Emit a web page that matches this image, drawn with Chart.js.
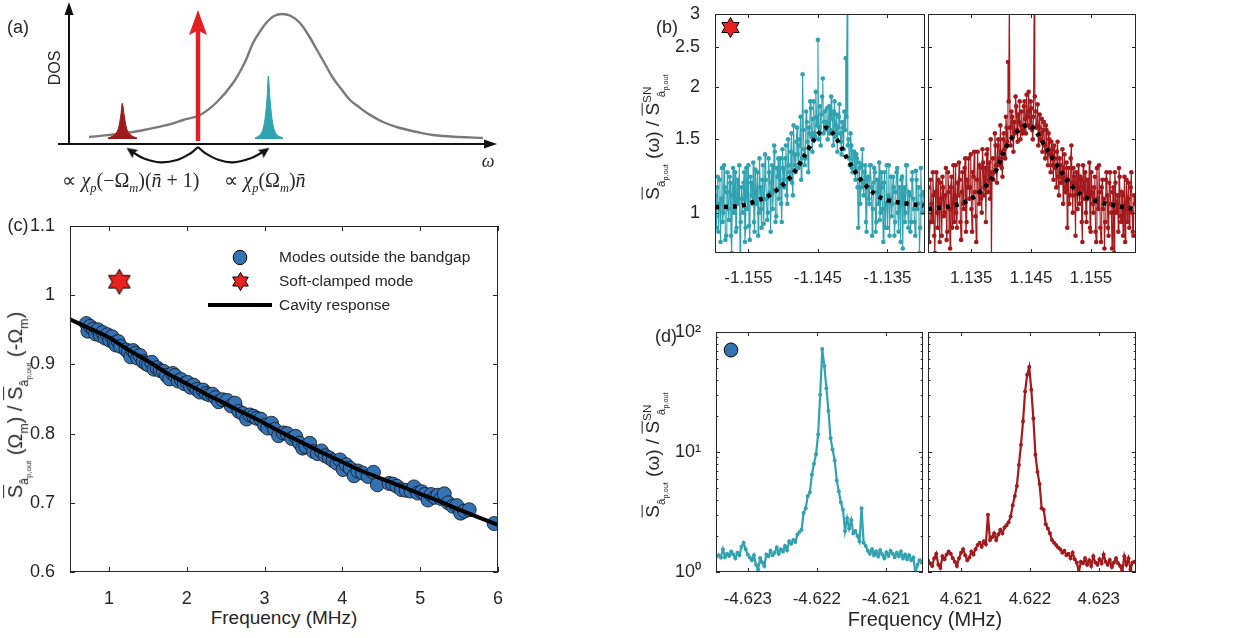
<!DOCTYPE html>
<html><head><meta charset="utf-8">
<script src="https://cdn.jsdelivr.net/npm/chart.js@4.4.1/dist/chart.umd.min.js"></script>
<style>
body{margin:0;background:#fff}
#fig{position:relative;width:1236px;height:638px;overflow:hidden;font-family:"Liberation Sans",Arial,sans-serif;color:#262626}
#fig canvas{position:absolute}
.t{position:absolute;transform:translate(-50%,-50%);white-space:nowrap;line-height:1}
.r{transform:translate(-50%,-50%) rotate(-90deg)}
.ov{text-decoration:overline;text-decoration-thickness:1px}
sub{font-size:0.62em;vertical-align:-0.45em}
sup{font-size:0.62em;vertical-align:0.75em}
.m{font-family:"Liberation Serif","Times New Roman",serif}
</style></head>
<body>
<div id="fig">
  <canvas id="cA" width="620" height="200" style="left:0;top:0"></canvas>
  <canvas id="cC" width="500" height="390" style="left:10px;top:215px"></canvas>
  <canvas id="cB1" width="268" height="286" style="left:660px;top:4px"></canvas>
  <canvas id="cB2" width="224" height="286" style="left:926px;top:4px"></canvas>
  <canvas id="cD1" width="268" height="290" style="left:660px;top:322px"></canvas>
  <canvas id="cD2" width="224" height="290" style="left:926px;top:322px"></canvas>

  <div class="t" style="left:18px;top:27px;font-size:18px">(a)</div>
  <div class="t r" style="left:55px;top:68px;font-size:16px">DOS</div>
  <div class="t m" style="left:488px;top:161px;font-size:18px"><i>ω</i></div>
  <div class="t m" style="left:131px;top:182px;font-size:20px">∝ <i>χ<sub>p</sub></i>(−Ω<sub><i>m</i></sub>)(<i>n̄</i> + 1)</div>
  <div class="t m" style="left:265px;top:182px;font-size:20px">∝ <i>χ<sub>p</sub></i>(Ω<sub><i>m</i></sub>)<i>n̄</i></div>

  <div class="t" style="left:667px;top:27px;font-size:18px">(b)</div>
  <div class="t" style="left:18px;top:225px;font-size:18px">(c)</div>
  <div class="t" style="left:666px;top:336px;font-size:18px">(d)</div>

  <div class="t r" style="left:19px;top:405px;font-size:20px"><span class="ov">S</span><sub>â<sub>p,out</sub></sub> (Ω<sub>m</sub>) / <span class="ov">S</span><sub>â<sub>p,out</sub></sub> (-Ω<sub>m</sub>)</div>
  <div class="t r" style="left:655px;top:137px;font-size:19px"><span class="ov">S</span><sub>â<sub>p,out</sub></sub> (ω) / <span class="ov">S</span><sup>SN</sup><sub style="margin-left:-0.9em">â<sub>p,out</sub></sub></div>
  <div class="t r" style="left:655px;top:455px;font-size:19px"><span class="ov">S</span><sub>â<sub>p,out</sub></sub> (ω) / <span class="ov">S</span><sup>SN</sup><sub style="margin-left:-0.9em">â<sub>p,out</sub></sub></div>

  <div class="t" style="left:284px;top:617px;font-size:19px">Frequency (MHz)</div>
  <div class="t" style="left:925px;top:619px;font-size:20px">Frequency (MHz)</div>

  <div style="position:absolute;left:208px;top:303px;width:64px;height:4px;background:#000"></div>
  <div class="t" style="left:279px;top:257px;transform:translate(0,-50%);font-size:15.5px">Modes outside the bandgap</div>
  <div class="t" style="left:279px;top:281px;transform:translate(0,-50%);font-size:15.5px">Soft-clamped mode</div>
  <div class="t" style="left:279px;top:305px;transform:translate(0,-50%);font-size:15.5px">Cavity response</div>
</div>
<script>
// ---------- (a) schematic ----------
const cavityX = [20, 64, 98, 114, 131, 148, 164, 176, 184, 192, 198, 205, 213, 222, 231, 240, 248, 256, 264, 273, 281, 290, 298, 314, 331, 348, 364, 390, 414];
const cavityY = [7, 12, 19, 24, 29, 42, 61, 82, 101, 114, 122, 128, 130, 128, 121, 108, 94, 80, 66, 54, 44, 37, 31, 22, 16, 12, 9, 7, 6];
const stokesX = [39, 44, 48, 50, 52, 53.3, 55, 57, 59, 63, 68];
const stokesY = [6, 8, 12, 18, 30, 41, 30, 18, 12, 8, 6];
const antiX = [186, 191, 194, 196, 198, 199.3, 201, 203, 205, 208, 214];
const antiY = [6, 9, 15, 25, 45, 68, 45, 25, 15, 9, 6];
const pumpX = [129, 129];
const pumpY = [3, 121.5];
const leftArcX = [129, 122, 108, 91, 75, 65, 62];
const leftArcY = [-3, -9, -16, -18.3, -14.5, -9, -7];
const rightArcX = [129, 136, 150, 164, 181, 192, 196];
const rightArcY = [-3, -9, -16, -18.3, -14.5, -9, -7];
const dosAxisTop = 142, omegaAxisStart = -11, omegaAxisEnd = 428;

// ---------- (c) ----------
const modeFreq = [0.71,0.73,0.76,0.80,0.83,0.86,0.89,0.92,0.95,0.98,1.01,1.04,1.07,1.09,1.12,1.15,1.22,1.25,1.28,1.31,1.34,1.37,1.40,1.44,1.48,1.51,1.55,1.58,1.62,1.66,1.70,1.74,1.78,1.82,1.85,1.89,1.93,1.97,2.01,2.05,2.09,2.13,2.17,2.21,2.25,2.29,2.33,2.37,2.41,2.46,2.52,2.57,2.62,2.67,2.72,2.77,2.81,2.86,2.90,2.95,3.00,3.04,3.09,3.13,3.18,3.24,3.29,3.35,3.40,3.45,3.49,3.53,3.58,3.63,3.68,3.73,3.78,3.83,3.88,3.93,3.97,4.01,4.05,4.10,4.15,4.20,4.26,4.33,4.40,4.45,4.60,4.65,4.70,4.76,4.82,4.88,4.92,4.97,5.02,5.06,5.10,5.14,5.19,5.23,5.27,5.31,5.36,5.42,5.47,5.52,5.57,5.63,5.95];
const modeRatio = [0.959,0.948,0.955,0.951,0.944,0.950,0.942,0.946,0.938,0.943,0.935,0.940,0.931,0.928,0.933,0.926,0.921,0.918,0.911,0.920,0.916,0.909,0.913,0.904,0.901,0.899,0.903,0.893,0.895,0.891,0.890,0.884,0.879,0.887,0.884,0.876,0.878,0.872,0.874,0.867,0.870,0.864,0.860,0.863,0.858,0.856,0.857,0.852,0.846,0.849,0.848,0.840,0.844,0.832,0.829,0.821,0.827,0.825,0.822,0.821,0.812,0.808,0.815,0.806,0.797,0.801,0.800,0.793,0.796,0.786,0.779,0.781,0.786,0.774,0.771,0.775,0.768,0.765,0.761,0.757,0.762,0.748,0.755,0.750,0.739,0.746,0.743,0.738,0.744,0.726,0.728,0.727,0.724,0.719,0.718,0.717,0.723,0.714,0.716,0.712,0.704,0.712,0.708,0.711,0.706,0.713,0.700,0.695,0.696,0.685,0.688,0.690,0.670];
const softFreq = [1.134];
const softRatio = [1.0195];
const cavFreq = [0.5,0.75,1,1.25,1.5,1.75,2,2.25,2.5,2.75,3,3.25,3.5,3.75,4,4.25,4.5,4.75,5,5.25,5.5,5.75,6];
const cavRatio = [0.965,0.952,0.939,0.921,0.905,0.887,0.872,0.857,0.843,0.829,0.815,0.800,0.786,0.772,0.759,0.746,0.735,0.724,0.713,0.702,0.690,0.679,0.668];
const cTicksX = [1, 2, 3, 4, 5, 6];
const cTicksY = [0.6, 0.7, 0.8, 0.9, 1.0, 1.1];

// ---------- (b) soft-clamped mode spectra (bins + in-between bins) ----------
const bNegStart = -1.1598, bNegStep = 0.0002;
const bNegVals = [
 1.10,0.92,1.22,1.05,0.85,1.28,1.00,1.15,0.88,1.25,
 0.96,1.18,0.80,1.28,1.02,0.90,1.20,1.08,0.78,1.15,
 1.00,1.25,0.92,1.10,1.30,0.86,1.18,1.05,0.95,1.27,
 1.12,0.88,1.35,1.02,1.20,0.94,1.38,1.08,1.00,1.25,
 0.90,1.30,1.12,1.40,0.98,1.22,1.08,1.35,0.95,1.28,
 1.15,1.45,1.05,1.30,1.20,1.55,1.10,1.38,1.25,1.60,
 1.28,1.50,1.20,2.15,1.42,1.35,1.65,1.25,1.55,1.78,
 1.40,1.85,1.52,1.70,2.60,1.60,1.45,1.90,1.55,1.75,
 1.65,1.50,1.80,1.58,1.72,1.45,1.85,1.62,1.40,1.70,
 1.55,1.38,1.60,1.75,2.35,3.20,1.50,1.30,1.45,1.25,
 1.40,1.20,1.35,0.92,1.28,1.15,1.42,1.10,1.30,0.90,
 1.22,1.05,1.30,0.88,1.18,1.25,0.95,1.12,1.32,1.00,
 1.15,0.85,1.25,1.05,0.92,1.30,1.08,0.98,1.22,0.88,
 1.12,1.28,0.90,1.05,1.20,0.82,1.15,1.00,1.30,0.92,
 1.10,0.95,1.25,1.02,0.88,1.20,1.05,0.80,1.28,1.00,1.12];
const bNegMid = [
 0.98,1.15,0.90,1.20,1.08,0.95,1.30,0.86,1.12,1.02,
 1.22,0.88,1.10,1.00,1.25,0.92,1.05,1.30,0.95,1.08,
 1.18,0.85,1.28,1.02,0.93,1.22,1.10,1.32,0.90,1.05,
 1.25,1.00,1.15,0.92,1.30,1.08,1.20,0.96,1.35,1.12,
 1.18,1.02,1.45,0.95,1.28,1.35,1.15,1.05,1.42,1.20,
 1.35,1.10,1.50,1.25,1.40,1.18,1.62,1.30,1.48,1.38,
 1.45,1.70,1.35,1.58,1.30,1.75,1.48,1.60,1.85,1.52,
 1.68,1.55,1.95,1.62,1.50,1.80,1.72,2.10,1.65,1.58,
 1.78,1.62,1.55,1.90,1.68,1.75,1.52,1.72,1.60,1.82,
 1.48,1.65,1.42,1.58,1.70,1.45,1.35,1.55,1.28,1.40,
 1.25,1.38,1.15,1.32,1.05,1.30,1.18,1.25,0.95,1.20,
 1.08,1.30,1.15,1.02,1.28,0.90,1.20,1.05,0.96,1.25,
 1.02,1.18,0.92,1.30,1.10,0.88,1.22,1.05,1.15,0.95,
 1.25,1.00,1.15,0.85,1.22,1.08,0.95,1.30,1.05,1.12,
 0.90,1.20,1.08,0.95,1.26,1.02,1.15,0.92,1.10,1.05];
const bPosStart = 1.1278, bPosStep = 0.00023;
const bPosVals = [
 1.02,0.85,1.20,0.95,1.10,0.80,1.25,0.92,1.05,1.18,
 0.88,1.15,1.00,1.28,0.90,1.12,0.82,1.22,1.05,0.95,
 1.30,0.92,1.10,1.20,0.86,1.25,1.02,1.35,0.95,1.15,
 1.08,1.38,0.90,1.22,1.12,0.85,1.40,1.05,1.28,1.00,
 1.32,1.15,0.95,1.42,1.20,1.08,0.75,1.35,1.25,1.45,
 1.18,1.50,1.30,1.40,1.22,1.55,1.35,1.60,2.30,3.30,
 1.45,1.70,1.40,1.55,1.80,1.48,1.65,1.50,1.75,1.58,
 1.85,1.55,1.70,1.95,1.60,1.78,1.50,3.30,1.75,1.62,
 1.45,1.72,1.55,1.40,1.65,1.35,1.58,1.30,1.50,1.25,
 1.42,1.20,1.35,1.15,1.48,1.10,1.30,1.22,1.05,1.38,
 1.15,0.92,1.28,1.10,1.45,1.00,1.22,0.88,1.18,1.30,
 1.05,1.20,0.85,1.15,1.25,0.95,1.10,1.32,0.90,1.12,
 1.00,1.22,0.85,1.08,1.30,0.92,1.15,1.02,0.82,1.20,
 1.10,0.88,1.25,1.00,1.12,0.80,1.18,1.05,0.90,1.22,
 0.95,1.10,1.02,0.85,1.20,1.08,0.92,1.15,1.00,0.88,1.05];
const bPosMid = [
 1.15,0.95,1.05,1.25,0.88,1.12,1.00,1.20,0.85,1.08,
 1.22,0.98,1.10,0.86,1.25,1.02,1.15,0.92,1.30,1.08,
 1.00,1.18,1.32,0.95,1.12,1.05,1.28,0.90,1.20,1.35,
 1.15,1.02,1.25,1.40,0.98,1.20,1.12,1.30,1.08,1.42,
 1.10,1.28,1.38,1.12,1.32,1.50,1.25,1.20,1.55,1.30,
 1.45,1.35,1.62,1.28,1.50,1.42,1.70,1.48,1.85,1.60,
 1.75,1.52,1.65,1.90,1.58,1.72,1.85,1.62,1.55,1.80,
 1.68,1.92,1.62,1.75,1.85,1.58,1.70,1.90,1.60,1.82,
 1.60,1.50,1.68,1.58,1.45,1.62,1.40,1.55,1.38,1.48,
 1.30,1.45,1.28,1.40,1.22,1.35,1.18,1.42,1.28,1.12,
 1.32,1.20,1.05,1.35,1.18,1.28,1.10,1.25,1.02,1.15,
 1.22,0.95,1.30,1.08,1.00,1.20,1.12,0.92,1.25,1.05,
 1.15,0.90,1.28,1.02,1.12,0.85,1.20,1.08,0.95,1.25,
 0.92,1.18,1.05,0.82,1.15,1.25,1.00,1.10,1.28,0.98,
 1.12,0.88,1.22,1.05,0.95,1.18,1.02,1.25,0.90,1.10];
const fitNegX = [-1.1598,-1.156,-1.1537,-1.152,-1.1493,-1.1475,-1.1464,-1.145,-1.1438,-1.1425,-1.1407,-1.139,-1.1383,-1.1365,-1.1349,-1.132,-1.1298];
const fitNegY = [1.03,1.04,1.07,1.10,1.20,1.32,1.42,1.54,1.60,1.52,1.34,1.21,1.17,1.10,1.07,1.05,1.04];
const fitPosX = [1.1278,1.132,1.135,1.1377,1.139,1.141,1.143,1.1448,1.147,1.149,1.152,1.154,1.1565,1.159,1.1623];
const fitPosY = [1.02,1.04,1.08,1.17,1.25,1.45,1.58,1.62,1.47,1.32,1.15,1.09,1.06,1.04,1.02];
const bTicksNeg = [-1.155, -1.145, -1.135];
const bTicksPos = [1.135, 1.145, 1.155];
const bTicksY = [1, 1.5, 2, 2.5, 3];

// ---------- (d) mode outside the bandgap ----------
const dNegStart = -4.62345, dPosStart = 4.62052, dStep = 0.00003;
const dNegVals = [
 1.35,1.38,1.32,1.55,1.33,1.42,1.36,1.48,1.40,1.30,
 1.45,1.38,1.62,1.75,1.55,1.40,1.32,1.25,1.38,1.15,
 1.05,1.30,1.20,1.12,1.40,1.35,1.50,1.38,1.45,1.60,
 1.42,1.55,1.48,1.65,1.52,1.80,1.72,1.85,1.78,2.05,
 2.15,2.25,3.1,3.4,4.3,4.6,6.5,8.0,9.6,14,
 30,72,52,34,22,13,10.5,8.5,5.8,4.7,
 3.8,3.3,2.2,2.8,2.3,2.7,2.1,2.2,2.0,1.8,
 3.4,1.75,1.65,1.50,1.42,1.55,1.38,1.48,1.35,1.52,
 1.40,1.30,1.46,1.36,1.50,1.42,1.33,1.45,1.35,1.48,
 1.30,1.40,1.28,1.38,1.25,1.32,0.98,1.15,1.25,1.20,1.30];
const dPosVals = [
 1.25,1.18,1.12,1.30,1.42,1.15,1.08,1.35,1.28,1.40,
 1.48,1.42,1.30,1.22,1.12,1.30,1.45,1.55,1.38,1.25,
 1.32,1.48,1.40,1.55,1.68,1.75,1.62,1.80,1.70,3.0,
 1.85,1.95,2.10,1.85,2.05,2.25,2.10,2.35,2.45,2.60,
 2.90,3.60,4.30,5.20,7.8,11.5,18,32,44,51,
 33,19,9.5,6.8,5.4,3.4,3.3,2.5,2.3,2.1,
 1.85,1.75,1.68,1.60,1.55,1.45,1.50,1.38,1.42,1.30,
 1.45,1.28,1.20,1.00,1.22,1.18,1.30,1.15,1.25,1.12,
 1.35,1.20,1.15,1.28,1.18,1.40,1.22,1.15,1.26,1.10,
 1.20,1.30,1.18,1.12,1.00,1.35,1.15,1.30,1.05,1.20,1.22];
const dTicksNeg = [-4.623, -4.622, -4.621];
const dTicksPos = [4.621, 4.622, 4.623];
const dTicksY = [1, 10, 100];
const dMinorY = [2,3,4,5,6,7,8,9,20,30,40,50,60,70,80,90];

// ---------- helpers ----------
const FONT = '"Liberation Sans", Arial, Helvetica, sans-serif';
const INK = '#262626';
const TEAL = '#31a2b0', DARKRED = '#a3191c', BLUE = '#3272b5', STAR_RED = '#e8221f';
const pts = (xs, ys) => xs.map((x, i) => ({ x, y: ys[i] }));
const onGrid = (start, step, ys) => ys.map((y, i) => ({ x: start + i * step, y }));
function withMid(start, step, ys, mids) {
  const out = [];
  ys.forEach((y, i) => {
    out.push({ x: start + i * step, y });
    if (i < mids.length) out.push({ x: start + (i + 0.5) * step, y: mids[i] });
  });
  return out;
}

function hexStar(R, fill) {
  const c = document.createElement('canvas');
  const s = Math.ceil(R * 2 + 3);
  c.width = s; c.height = s;
  const g = c.getContext('2d');
  g.translate(s / 2, s / 2);
  g.beginPath();
  for (let k = 0; k < 12; k++) {
    const r = k % 2 ? R / Math.sqrt(3) : R;
    const a = -Math.PI / 2 + k * Math.PI / 6;
    g.lineTo(r * Math.cos(a), r * Math.sin(a));
  }
  g.closePath();
  g.fillStyle = fill; g.fill();
  g.lineWidth = 1; g.strokeStyle = '#000'; g.stroke();
  return c;
}
function dot(rx, ry, fill) {
  const c = document.createElement('canvas');
  c.width = Math.ceil(rx * 2 + 2); c.height = Math.ceil(ry * 2 + 2);
  const g = c.getContext('2d');
  g.beginPath();
  g.ellipse(c.width / 2, c.height / 2, rx, ry, 0, 0, Math.PI * 2);
  g.fillStyle = fill; g.fill();
  g.lineWidth = 1; g.strokeStyle = '#000'; g.stroke();
  return c;
}
function head(w, h, color) {
  const c = document.createElement('canvas');
  c.width = w; c.height = h;
  const g = c.getContext('2d');
  g.fillStyle = color;
  g.beginPath(); g.moveTo(w / 2, 0); g.lineTo(w, h); g.lineTo(w / 2, h * 0.82); g.lineTo(0, h); g.closePath(); g.fill();
  return c;
}
function place(c, cx, cy) {
  c.style.left = (cx - c.width / 2) + 'px';
  c.style.top = (cy - c.height / 2) + 'px';
  document.getElementById('fig').appendChild(c);
}

// box with inward ticks, MATLAB style
const boxTicks = {
  id: 'boxTicks',
  afterDatasetsDraw(chart, args, o) {
    if (!o.on) return;
    const { ctx, chartArea: a } = chart;
    const xs = chart.scales.x, ys = chart.scales.y;
    ctx.save();
    ctx.strokeStyle = INK;
    ctx.lineWidth = 1;
    ctx.beginPath();
    xs.ticks.forEach(t => {
      const p = Math.round(xs.getPixelForValue(t.value)) + 0.5;
      ctx.moveTo(p, a.bottom); ctx.lineTo(p, a.bottom - o.len);
      ctx.moveTo(p, a.top); ctx.lineTo(p, a.top + o.len);
    });
    const yt = (v, len) => {
      const p = Math.round(ys.getPixelForValue(v)) + 0.5;
      ctx.moveTo(a.left, p); ctx.lineTo(a.left + len, p);
      ctx.moveTo(a.right, p); ctx.lineTo(a.right - len, p);
    };
    ys.ticks.forEach(t => yt(t.value, o.len));
    (o.minorY || []).forEach(v => yt(v, o.len * 0.6));
    ctx.stroke();
    ctx.strokeRect(Math.round(a.left) + 0.5, Math.round(a.top) + 0.5, Math.round(a.width) - 1, Math.round(a.height) - 1);
    ctx.restore();
  }
};
Chart.register(boxTicks);

function axis(o) {
  return {
    type: o.type || 'linear',
    min: o.min, max: o.max,
    grid: { display: false },
    border: { display: false },
    ticks: {
      display: o.labels !== false,
      autoSkip: false, maxRotation: 0, minRotation: 0,
      padding: o.pad || 6,
      color: INK,
      font: { family: FONT, size: o.size || 17 },
      callback: o.fmt
    },
    afterBuildTicks: s => { s.ticks = o.ticks.map(v => ({ value: v })); },
    afterFit: s => {
      if (o.w != null) s.width = o.w;
      if (o.h != null) s.height = o.h;
      // the layout padding alone decides where the plot box sits
      s.paddingTop = s.paddingBottom = s.paddingLeft = s.paddingRight = 0;
    }
  };
}
function baseOpts(scales, padding, box) {
  return {
    responsive: false, animation: false,
    layout: { padding, autoPadding: false },
    plugins: { legend: { display: false }, tooltip: { enabled: false }, boxTicks: box },
    scales
  };
}

// ---------- (a) ----------
const schemeAxes = {
  id: 'schemeAxes',
  beforeDatasetsDraw(chart) {
    const { ctx, scales: { x, y } } = chart;
    const x0 = x.getPixelForValue(0), y0 = y.getPixelForValue(0);
    const yt = y.getPixelForValue(dosAxisTop);
    const xl = x.getPixelForValue(omegaAxisStart), xr = x.getPixelForValue(omegaAxisEnd);
    ctx.save();
    ctx.strokeStyle = ctx.fillStyle = '#111';
    ctx.lineWidth = 2;
    ctx.beginPath();
    ctx.moveTo(x0, y0); ctx.lineTo(x0, yt + 10);
    ctx.moveTo(xl, y0); ctx.lineTo(xr - 10, y0);
    ctx.stroke();
    ctx.beginPath(); ctx.moveTo(x0, yt); ctx.lineTo(x0 - 4.5, yt + 13); ctx.lineTo(x0 + 4.5, yt + 13); ctx.closePath(); ctx.fill();
    ctx.beginPath(); ctx.moveTo(xr, y0); ctx.lineTo(xr - 13, y0 - 4.5); ctx.lineTo(xr - 13, y0 + 4.5); ctx.closePath(); ctx.fill();
    ctx.restore();
  }
};
const redHead = head(18, 25, '#e31e24');
const blackHead = head(10, 11, '#111');
new Chart(document.getElementById('cA'), {
  type: 'scatter',
  data: { datasets: [
    { data: pts(pumpX, pumpY), showLine: true, borderColor: '#e31e24', borderWidth: 4.5, pointRadius: [0, 1], pointStyle: redHead, order: 1 },
    { data: pts(leftArcX, leftArcY), showLine: true, borderColor: '#111', borderWidth: 2.2, tension: 0.4,
      pointRadius: [0, 0, 0, 0, 0, 0, 1], pointStyle: blackHead, pointRotation: -55, order: 1 },
    { data: pts(rightArcX, rightArcY), showLine: true, borderColor: '#111', borderWidth: 2.2, tension: 0.4,
      pointRadius: [0, 0, 0, 0, 0, 0, 1], pointStyle: blackHead, pointRotation: 55, order: 1 },
    { data: pts(stokesX, stokesY), showLine: true, borderColor: '#9c1c1c', backgroundColor: '#9c1c1c', borderWidth: 1, fill: { value: 5 }, pointRadius: 0, tension: 0.3, order: 3 },
    { data: pts(antiX, antiY), showLine: true, borderColor: '#2fa3b0', backgroundColor: '#2fa3b0', borderWidth: 1, fill: { value: 5 }, pointRadius: 0, tension: 0.3, order: 3 },
    { data: pts(cavityX, cavityY), showLine: true, borderColor: '#7a7a7a', borderWidth: 2.4, pointRadius: 0, tension: 0.4, order: 5 }
  ]},
  options: {
    responsive: false, animation: false, layout: { padding: 0, autoPadding: false },
    plugins: { legend: { display: false }, tooltip: { enabled: false } },
    scales: { x: { type: 'linear', display: false, min: -69, max: 551 }, y: { display: false, min: -56, max: 144 } }
  },
  plugins: [schemeAxes]
});

// ---------- (c) ----------
new Chart(document.getElementById('cC'), {
  type: 'scatter',
  data: { datasets: [
    { data: pts(cavFreq, cavRatio), showLine: true, borderColor: '#000', borderWidth: 4, pointRadius: 0, tension: 0.3, order: 0 },
    { data: pts(modeFreq, modeRatio), backgroundColor: BLUE, borderColor: '#111', borderWidth: 0.8, pointRadius: 7, order: 1 },
    { data: pts(softFreq, softRatio), pointStyle: hexStar(12.5, STAR_RED), pointRadius: 5, order: 2 }
  ]},
  options: baseOpts({
    x: axis({ min: 0.5, max: 6, ticks: cTicksX, fmt: v => String(v), h: 33, pad: 8, size: 18 }),
    y: axis({ min: 0.6, max: 1.1, ticks: cTicksY, fmt: v => String(+v.toFixed(1)), w: 60, pad: 7, size: 18 })
  }, { top: 11, right: 12, left: 0, bottom: 0 }, { on: true, len: 5 })
});

// ---------- (b) ----------
const specLine = (data, color, r) => ({ data, showLine: true, borderColor: color, backgroundColor: color, borderWidth: 1.1, pointRadius: r, pointBorderWidth: 0, order: 2 });
const fitLine = data => ({ data, showLine: true, borderColor: '#000', borderWidth: 4.5, borderDash: [4, 5], pointRadius: 0, tension: 0.4, order: 0 });
new Chart(document.getElementById('cB1'), {
  type: 'scatter',
  data: { datasets: [fitLine(pts(fitNegX, fitNegY)), specLine(withMid(bNegStart, bNegStep, bNegVals, bNegMid), TEAL, 2.3)] },
  options: baseOpts({
    x: axis({ min: -1.1598, max: -1.1296, ticks: bTicksNeg, fmt: v => v.toFixed(3), h: 37, pad: 7 }),
    y: axis({ type: 'logarithmic', min: 0.8, max: 3, ticks: bTicksY, fmt: v => String(v), w: 55, pad: 7, size: 18 })
  }, { top: 10, right: 3, left: 0, bottom: 0 }, { on: true, len: 4 })
});
new Chart(document.getElementById('cB2'), {
  type: 'scatter',
  data: { datasets: [fitLine(pts(fitPosX, fitPosY)), specLine(withMid(bPosStart, bPosStep, bPosVals, bPosMid), DARKRED, 2.3)] },
  options: baseOpts({
    x: axis({ min: 1.1278, max: 1.1625, ticks: bTicksPos, fmt: v => v.toFixed(3), h: 37, pad: 7 }),
    y: axis({ type: 'logarithmic', min: 0.8, max: 3, ticks: bTicksY, labels: false, w: 2 })
  }, { top: 10, right: 14, left: 0, bottom: 0 }, { on: true, len: 4 })
});

// ---------- (d) ----------
const supDigits = { 1: '10⁰', 10: '10¹', 100: '10²' };
const dLine = (data, color) => ({ data, showLine: true, borderColor: color, backgroundColor: color, borderWidth: 2.2, pointRadius: 2, pointBorderWidth: 0 });
new Chart(document.getElementById('cD1'), {
  type: 'scatter',
  data: { datasets: [dLine(onGrid(dNegStart, dStep, dNegVals), TEAL)] },
  options: baseOpts({
    x: axis({ min: -4.62346, max: -4.62046, ticks: dTicksNeg, fmt: v => v.toFixed(3), h: 40, pad: 9 }),
    y: axis({ type: 'logarithmic', min: 1, max: 100, ticks: dTicksY, fmt: v => supDigits[v], w: 56, pad: 7, size: 18 })
  }, { top: 10, right: 5, left: 0, bottom: 0 }, { on: true, len: 4, minorY: dMinorY })
});
new Chart(document.getElementById('cD2'), {
  type: 'scatter',
  data: { datasets: [dLine(onGrid(dPosStart, dStep, dPosVals), DARKRED)] },
  options: baseOpts({
    x: axis({ min: 4.62052, max: 4.62354, ticks: dTicksPos, fmt: v => v.toFixed(3), h: 40, pad: 9 }),
    y: axis({ type: 'logarithmic', min: 1, max: 100, ticks: dTicksY, labels: false, w: 2 })
  }, { top: 10, right: 14, left: 0, bottom: 0 }, { on: true, len: 4, minorY: dMinorY })
});

// markers in panel corners and legend of (c)
place(hexStar(10, STAR_RED), 730, 27);
place(dot(6.8, 7, BLUE), 731, 350);
place(dot(6.8, 7.2, BLUE), 240, 257);
place(hexStar(9, STAR_RED), 240, 281);
</script>
</body></html>
